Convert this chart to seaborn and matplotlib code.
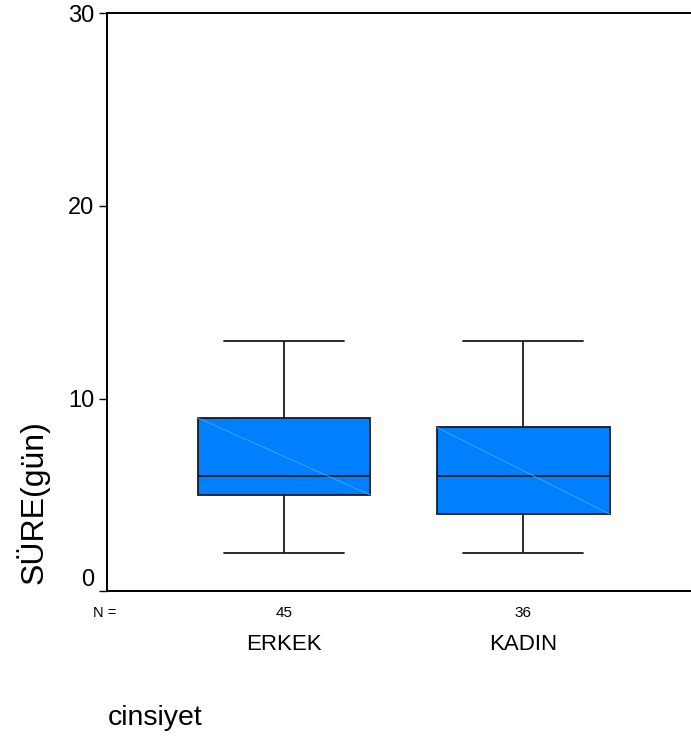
import numpy as np
import pandas as pd
import matplotlib
matplotlib.use("Agg")
import matplotlib.pyplot as plt
import seaborn as sns

# DATA (five-number summary per group)
categories = ["ERKEK", "KADIN"]
counts = [45, 36]
erkek_values = [2, 5, 6, 9, 13]
kadin_values = [2, 4, 6, 8.5, 13]
y_ticks = [0, 10, 20, 30]

df = pd.DataFrame({
    "cinsiyet": ["ERKEK"] * len(erkek_values) + ["KADIN"] * len(kadin_values),
    "sure": erkek_values + kadin_values,
})

sns.set_style("white")
plt.rcParams["font.family"] = ["Liberation Sans", "DejaVu Sans"]
plt.rcParams["text.color"] = "black"
plt.rcParams["axes.labelcolor"] = "black"
plt.rcParams["ytick.color"] = "black"
plt.rcParams["ytick.labelcolor"] = "black"

fig = plt.figure(figsize=(6.91, 7.38), dpi=100)
ax = fig.add_axes([0.155, 0.199, 0.845, 0.783])

box_width = 0.72
sns.boxplot(
    data=df,
    x="cinsiyet",
    y="sure",
    order=categories,
    color="#0080ff",
    saturation=1,
    width=box_width,
    linecolor="#1a1a1a",
    linewidth=1.3,
    whis=1.5,
    capwidths=0.5,
    ax=ax
)

# faint diagonal across each box (SPSS render artefact)
for i, vals in enumerate([erkek_values, kadin_values]):
    q1 = np.percentile(vals, 25)
    q3 = np.percentile(vals, 75)
    ax.plot(
        [i - box_width / 2, i + box_width / 2],
        [q3, q1],
        color="#4da6ff",
        linewidth=0.6,
        zorder=3
    )

ax.set_ylim(0, 30)
ax.set_xlim(-0.7375, 1.7)
ax.set_yticks(y_ticks)
ax.set_xticks([])
ax.set_xlabel("")

ax.tick_params(axis="y", left=True, length=6, width=1, labelsize=17, pad=3)

# SPSS lifts the "0" label off the axis line
ax.get_yticklabels()[0].set_va("bottom")

for side in ["left", "bottom", "top"]:
    ax.spines[side].set_visible(True)
    ax.spines[side].set_color("black")
    ax.spines[side].set_linewidth(1.4)
ax.spines["right"].set_visible(False)

ax.set_ylabel("SÜRE(gün)", fontsize=23)
ax.yaxis.label.set_va("center")
ax.yaxis.set_label_coords(-0.127, 0.154)

# N row and category names under the axis
trans = ax.get_xaxis_transform()
ax.text(-0.796, -0.037, "N =", transform=trans, ha="left", va="center",
        fontsize=10.5, clip_on=False)
for i, (cat, n) in enumerate(zip(categories, counts)):
    ax.text(i, -0.037, str(n), transform=trans, ha="center", va="center", fontsize=11)
    ax.text(i, -0.093, cat, transform=trans, ha="center", va="center", fontsize=16)

fig.text(108 / 691, 13 / 738, "cinsiyet", ha="left", va="baseline", fontsize=20.5)

fig.savefig("out.png", dpi=100)
